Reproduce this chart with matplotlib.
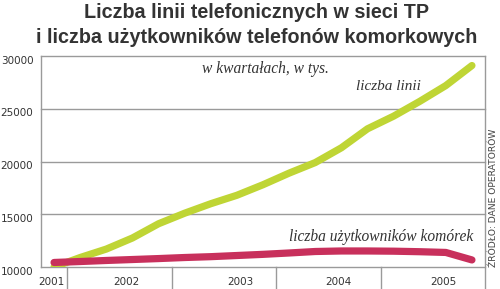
import matplotlib
matplotlib.use('Agg')
import matplotlib.pyplot as plt
import matplotlib.transforms as mtransforms
import numpy as np

# quarterly values, Q4 2001 .. Q4 2005, thousands
quarters = ['IV 01', 'I 02', 'II 02', 'III 02', 'IV 02', 'I 03', 'II 03', 'III 03', 'IV 03',
            'I 04', 'II 04', 'III 04', 'IV 04', 'I 05', 'II 05', 'III 05', 'IV 05']
linie_tp = [10000, 10900, 11700, 12750, 14100, 15100, 16000, 16800, 17800,
            18900, 19900, 21300, 23100, 24300, 25700, 27200, 29100]
komorki = [10430, 10520, 10620, 10710, 10800, 10900, 10980, 11090, 11200,
           11330, 11470, 11520, 11520, 11500, 11450, 11380, 10670]
year_labels = ['2001', '2002', '2003', '2004', '2005']
year_label_x = [-0.1, 2.77, 7.15, 10.88, 14.9]
year_bounds = [0.5, 4.5, 8.5, 12.5]
y_ticks = [10000, 15000, 20000, 25000, 30000]

GREEN = '#bfd535'
PINK = '#c8305c'
GRID = '#9a9a9a'
TXT = '#333333'

fig = plt.figure(figsize=(5, 2.89), dpi=100)
ax = fig.add_axes([0.082, 0.0761, 0.888, 0.730])

x = np.arange(len(quarters))
ax.plot(x, linie_tp, color=GREEN, lw=5.2, solid_capstyle='round', solid_joinstyle='round', zorder=3)
ax.plot(x, komorki, color=PINK, lw=5.2, solid_capstyle='round', solid_joinstyle='round', zorder=4)

ax.set_xlim(-0.5, len(quarters) - 0.5)
ax.set_ylim(10000, 30000)

for s in ['top', 'bottom', 'right']:
    ax.spines[s].set_visible(False)
ax.spines['left'].set_color(GRID)
ax.spines['left'].set_linewidth(1)

for v in y_ticks:
    ax.axhline(v, color=GRID, lw=1, zorder=1, clip_on=False)

# year separators and right border running below the axis
trans = mtransforms.blended_transform_factory(ax.transData, ax.transAxes)
for b in year_bounds:
    ax.plot([b, b], [0, -0.11], color=GRID, lw=1, transform=trans, clip_on=False)
ax.plot([len(quarters) - 0.5] * 2, [-0.11, 1], color=GRID, lw=1, transform=trans, clip_on=False)

ax.set_xticks([])
for lab, px in zip(year_labels, year_label_x):
    ax.text(px, -0.07, lab, transform=trans, ha='center', va='center',
            fontsize=7.5, color=TXT, family='DejaVu Sans')

ax.set_yticks(y_ticks)
ax.set_yticklabels([str(v) for v in y_ticks], fontsize=7.5, color=TXT)
ax.tick_params(axis='y', length=0, pad=5.5)
off = mtransforms.ScaledTranslation(0, -3.5 / 100, fig.dpi_scale_trans)
for lab in ax.get_yticklabels():
    lab.set_transform(lab.get_transform() + off)

serif = dict(family='Liberation Serif', style='italic', color=TXT, va='center')
fig.text(265 / 500, 1 - 69 / 289, 'w kwartałach, w tys.', ha='center', fontsize=11.2, **serif)
fig.text(421 / 500, 1 - 86.7 / 289, 'liczba linii', ha='right', fontsize=11, **serif)
fig.text(473 / 500, 1 - 236.7 / 289, 'liczba użytkowników komórek', ha='right', fontsize=11.2, **serif)

fig.text(493 / 500, 22 / 289, 'ŹRÓDŁO: DANE OPERATORÓW', rotation=90, ha='center', va='bottom',
         fontsize=6.6, color='#444444', family='DejaVu Sans')

title_kw = dict(ha='center', va='baseline', fontsize=14.2, fontweight='bold', color=TXT,
                family='Liberation Sans')
fig.text(257 / 500, 1 - 18 / 289, 'Liczba linii telefonicznych w sieci TP', **title_kw)
fig.text(257 / 500, 1 - 43 / 289, 'i liczba użytkowników telefonów komorkowych', **title_kw)

fig.savefig('out.png', dpi=100)
